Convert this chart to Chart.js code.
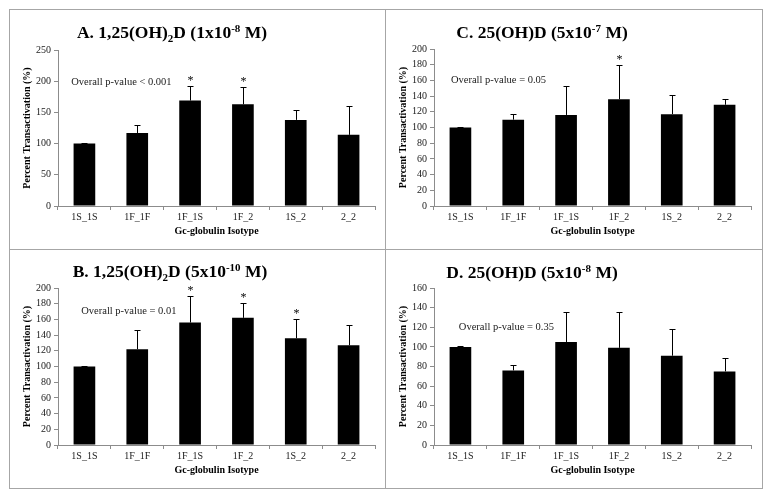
<!DOCTYPE html>
<html>
<head>
<meta charset="utf-8">
<script src="https://cdn.jsdelivr.net/npm/chart.js@4.4.1/dist/chart.umd.min.js"></script>
<style>
  html, body { margin: 0; padding: 0; background: #fff; }
  body { width: 772px; height: 498px; position: relative; overflow: hidden; }
  .panel { position: absolute; box-sizing: border-box; border: 1px solid #a6a6a6; background: #fff; }
  .panel canvas { display: block; }
</style>
</head>
<body>
<div class="panel" style="left:9px;top:9px;width:377px;height:241px"><canvas id="chartA" width="375" height="239"></canvas></div>
<div class="panel" style="left:385px;top:9px;width:378px;height:241px"><canvas id="chartC" width="376" height="239"></canvas></div>
<div class="panel" style="left:9px;top:249px;width:377px;height:240px"><canvas id="chartB" width="375" height="238"></canvas></div>
<div class="panel" style="left:385px;top:249px;width:378px;height:240px"><canvas id="chartD" width="376" height="238"></canvas></div>
<script>
const isotypes = ['1S_1S', '1F_1F', '1F_1S', '1F_2', '1S_2', '2_2'];

// A. 1,25(OH)2D 1x10-8 M
const meanA = [100, 117, 169, 163, 138, 114];
const errA = [0.5, 13, 23, 27, 16, 47];
const starA = [false, false, true, true, false, false];

// B. 1,25(OH)2D 5x10-10 M
const meanB = [100, 122, 156, 162, 136, 127];
const errB = [0.5, 25, 34, 19, 25, 26];
const starB = [false, false, true, true, true, false];

// C. 25(OH)D 5x10-7 M
const meanC = [100, 110, 116, 136, 117, 129];
const errC = [0.5, 7, 37, 44, 24, 7];
const starC = [false, false, false, true, false, false];

// D. 25(OH)D 5x10-8 M
const meanD = [100, 76, 105, 99, 91, 75];
const errD = [0.5, 6, 31, 37, 27, 14];
const starD = [false, false, false, false, false, false];

const titleA = [['A. 1,25(OH)', ''], ['2', 'sub'], ['D (1x10', ''], ['-8', 'sup'], [' M)', '']];
const titleB = [['B. 1,25(OH)', ''], ['2', 'sub'], ['D (5x10', ''], ['-10', 'sup'], [' M)', '']];
const titleC = [['C. 25(OH)D (5x10', ''], ['-7', 'sup'], [' M)', '']];
const titleD = [['D. 25(OH)D (5x10', ''], ['-8', 'sup'], [' M)', '']];

const pvalA = 'Overall p-value < 0.001';
const pvalB = 'Overall p-value = 0.01';
const pvalC = 'Overall p-value = 0.05';
const pvalD = 'Overall p-value = 0.35';

const SERIF = "'Times New Roman', 'Liberation Serif', serif";
const AXIS_GRAY = '#8c8c8c';

// error bars, asterisks, p-value note and the rich title
const extras = {
    id: 'extras',
    afterDatasetsDraw(chart, args, opts) {
        const ctx = chart.ctx;
        const x = chart.scales.x;
        const y = chart.scales.y;
        const values = chart.data.datasets[0].data;
        const meta = chart.getDatasetMeta(0);
        ctx.save();
        ctx.strokeStyle = '#000';
        ctx.lineWidth = 1;
        meta.data.forEach((bar, i) => {
            const cx = Math.round(bar.x) + 0.5;
            const base = y.getPixelForValue(values[i]);
            const top = Math.round(y.getPixelForValue(values[i] + opts.errors[i])) + 0.5;
            ctx.beginPath();
            ctx.moveTo(cx, base);
            ctx.lineTo(cx, top);
            ctx.moveTo(cx - 3, top);
            ctx.lineTo(cx + 3, top);
            ctx.stroke();
            if (opts.stars[i]) {
                ctx.fillStyle = '#000';
                ctx.font = '12px ' + SERIF;
                ctx.textAlign = 'center';
                ctx.textBaseline = 'alphabetic';
                ctx.fillText('*', cx, top - 3);
            }
        });

        // p-value note
        ctx.fillStyle = '#1a1a1a';
        ctx.font = '10.5px ' + SERIF;
        ctx.textAlign = 'left';
        ctx.textBaseline = 'middle';
        ctx.fillText(opts.note, x.getPixelForValue(0) + opts.noteX * (x.getPixelForValue(1) - x.getPixelForValue(0)),
            y.getPixelForValue(opts.noteY));

        // title with sub / superscripts
        const big = 'bold 17.5px ' + SERIF;
        const small = 'bold 11px ' + SERIF;
        let total = 0;
        opts.title.forEach(([t, k]) => {
            ctx.font = k ? small : big;
            total += ctx.measureText(t).width;
        });
        let px = opts.titleX - total / 2;
        ctx.fillStyle = '#000';
        ctx.textBaseline = 'alphabetic';
        opts.title.forEach(([t, k]) => {
            ctx.font = k ? small : big;
            const dy = k === 'sub' ? 4 : (k === 'sup' ? -6 : 0);
            ctx.fillText(t, px, opts.titleY + dy);
            px += ctx.measureText(t).width;
        });
        ctx.restore();
    }
};

function makeChart(id, values, errors, stars, yMax, yStep, title, note, noteX, noteY, lay) {
    return new Chart(document.getElementById(id), {
        type: 'bar',
        data: {
            labels: isotypes,
            datasets: [{
                data: values,
                backgroundColor: '#000',
                borderWidth: 0,
                barPercentage: 0.41,
                categoryPercentage: 1
            }]
        },
        options: {
            responsive: false,
            animation: false,
            devicePixelRatio: 1,
            layout: { padding: { left: 0, top: lay.top, right: lay.right, bottom: 0 } },
            plugins: {
                legend: { display: false },
                tooltip: { enabled: false },
                extras: {
                    errors: errors, stars: stars, title: title,
                    titleX: lay.titleX, titleY: lay.titleY,
                    note: note, noteX: noteX, noteY: noteY
                }
            },
            scales: {
                x: {
                    offset: true,
                    grid: { offset: true, drawOnChartArea: false, drawTicks: true, tickLength: 4, color: AXIS_GRAY },
                    border: { color: AXIS_GRAY },
                    ticks: { font: { family: SERIF, size: 10 }, color: '#1a1a1a', padding: 1 },
                    title: {
                        display: true, text: 'Gc-globulin Isotype', color: '#000',
                        font: { family: SERIF, size: 10, weight: 'bold' },
                        padding: { top: 0, bottom: 12 }
                    },
                    afterFit(s) { s.height = 43; }
                },
                y: {
                    min: 0, max: yMax,
                    grid: { drawOnChartArea: false, drawTicks: true, tickLength: 4, color: AXIS_GRAY },
                    border: { color: AXIS_GRAY },
                    ticks: { stepSize: yStep, font: { family: SERIF, size: 10 }, color: '#1a1a1a', padding: 3 },
                    title: {
                        display: true, text: 'Percent Transactivation (%)', color: '#000',
                        font: { family: SERIF, size: 10, weight: 'bold' },
                        padding: { top: 11, bottom: 0 }
                    },
                    afterFit(s) { s.width = 48; }
                }
            }
        },
        plugins: [extras]
    });
}

makeChart('chartA', meanA, errA, starA, 250, 50, titleA, pvalA, -0.25, 199,
    { top: 40, right: 10, titleX: 162, titleY: 28 });
makeChart('chartC', meanC, errC, starC, 200, 20, titleC, pvalC, -0.18, 160,
    { top: 39, right: 11, titleX: 156, titleY: 28 });
makeChart('chartB', meanB, errB, starB, 200, 20, titleB, pvalB, -0.06, 170,
    { top: 38, right: 10, titleX: 160, titleY: 27 });
makeChart('chartD', meanD, errD, starD, 160, 20, titleD, pvalD, -0.03, 120,
    { top: 38, right: 11, titleX: 146, titleY: 28 });
</script>
</body>
</html>
